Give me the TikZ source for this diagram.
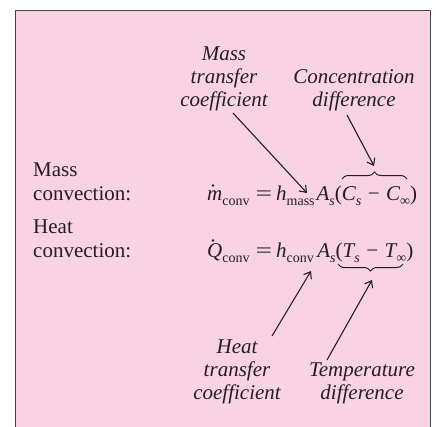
\documentclass[tikz,border=0pt]{standalone}
\usepackage{fontspec}
\usepackage{graphicx}
\setmainfont{Liberation Serif}
\usetikzlibrary{arrows.meta,decorations.pathreplacing,calc}
\definecolor{bgpink}{RGB}{249,211,228}
\definecolor{framecol}{RGB}{70,70,70}
\definecolor{ink}{RGB}{35,31,32}
\newcommand\subx[1]{\raisebox{-5pt}{\fontsize{14}{14}\selectfont #1}}
\newcommand\eqsign{\scalebox{1.4}[1]{=}}
\tikzset{
  txt/.style={inner sep=0pt, text=ink, font=\fontsize{21}{23}\selectfont},
  lbl/.style={txt, align=center, font=\fontsize{21}{23}\selectfont\itshape},
  ptr/.style={draw=ink, line width=1.1pt, -{Straight Barb[length=6pt,width=9pt]}},
  brc/.style={draw=ink, line width=1pt, decorate, decoration={brace, amplitude=7pt}},
  dotmark/.style={fill=ink}
}
\begin{document}
\begin{tikzpicture}[x=1pt,y=-1pt]
\useasboundingbox (0,0) rectangle (436,426);
\fill[bgpink] (15.5,10.5) rectangle (430.5,430);
\draw[framecol, line width=1.5pt] (15.5,430) -- (15.5,10.5) -- (430.5,10.5) -- (430.5,430);

% left labels
\node[txt, anchor=base west] (mass1) at (33,176) {Mass};
\node[txt, anchor=base west] (mass2) at (33,200) {convection:};
\node[txt, anchor=base west] (heat1) at (33,233) {Heat};
\node[txt, anchor=base west] (heat2) at (33,257) {convection:};

% equations
\node[txt, anchor=base west] (meq) at (207,200) {\itshape m\subx{\upshape conv}\hspace{6pt}\upshape\eqsign\hspace{4pt}\itshape h\subx{\upshape mass}\hspace{2pt}A\subx{s}\upshape(\itshape C\subx{s}\hspace{6.5pt}\upshape −\hspace{6.5pt}\itshape C\subx{\upshape ∞}\upshape)};
\node[txt, anchor=base west] (heq) at (207,257) {\itshape Q\subx{\upshape conv}\hspace{6pt}\upshape\eqsign\hspace{4pt}\itshape h\subx{\upshape conv}\hspace{3.5pt}A\subx{s}\upshape(\itshape T\subx{s}\hspace{6.5pt}\upshape −\hspace{6.5pt}\itshape T\subx{\upshape ∞}\upshape)};
% time-derivative dots
\fill[dotmark] ($(meq.base west)+(6,-14.5)$) circle (1.3pt);
\fill[dotmark] ($(heq.base west)+(6,-16.5)$) circle (1.3pt);

% italic labels (base anchor = last line)
\node[lbl, anchor=base] (mtc) at (224,106) {Mass\\transfer\\coefficient};
\node[lbl, anchor=base] (cd) at (354,106) {Concentration\\difference};
\node[lbl, anchor=base] (htc) at (237,399) {Heat\\transfer\\coefficient};
\node[lbl, anchor=base] (td) at (362,399) {Temperature\\difference};

% braces
\coordinate (ob1) at (342,179);
\coordinate (ob2) at (407,179);
\coordinate (ub1) at (403,264);
\coordinate (ub2) at (338,264);
\draw[brc] (ob1) -- (ob2);
\draw[brc] (ub1) -- (ub2);

% arrow endpoints
\coordinate (a1s) at (233,113);
\coordinate (a1e) at (307,193);
\coordinate (a2s) at (347,115);
\coordinate (a2e) at (374,166);
\coordinate (a3s) at (272,336);
\coordinate (a3e) at (311,271);
\coordinate (a4s) at (327,360);
\coordinate (a4e) at (372,280);
\draw[ptr] (a1s) -- (a1e);
\draw[ptr] (a2s) -- (a2e);
\draw[ptr] (a3s) -- (a3e);
\draw[ptr] (a4s) -- (a4e);
\end{tikzpicture}
\end{document}
